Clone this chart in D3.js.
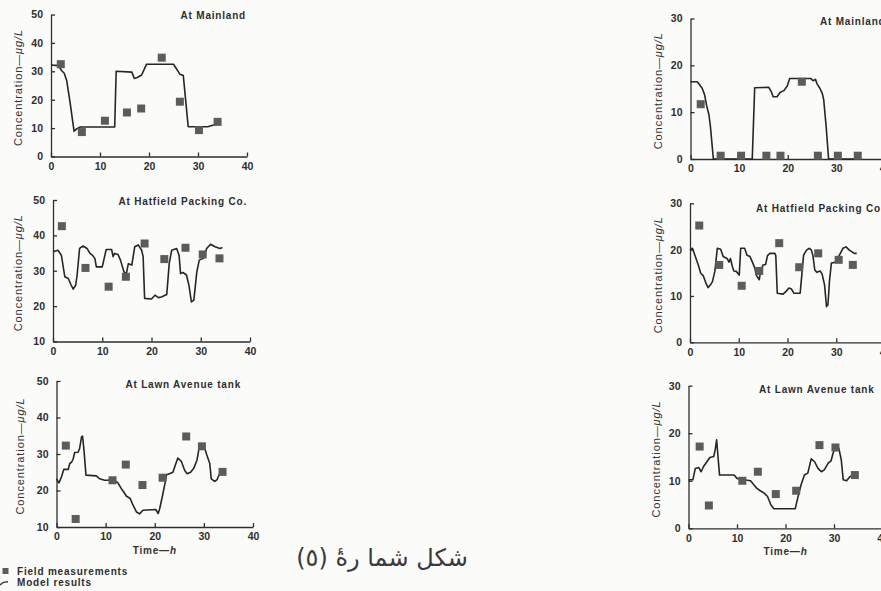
<!DOCTYPE html>
<html>
<head>
<meta charset="utf-8">
<script src="https://cdn.jsdelivr.net/npm/d3@7"></script>
<style>
  body { margin: 0; background: #fbfbf9; }
  svg { display: block; }
  .tick text { font-family: "Liberation Sans", Arial, sans-serif; font-weight: bold; font-size: 10.5px; fill: #2e2e2e; }
  .tick line, .domain { stroke: #2e2e2e; stroke-width: 1.3px; }
</style>
</head>
<body>
<div id="chart"></div>
<script>
// ---- data ----
var xTicks = [0, 10, 20, 30, 40];
var yTicksLeftTop = [0, 10, 20, 30, 40, 50];
var yTicksLeft = [10, 20, 30, 40, 50];
var yTicksRight = [0, 10, 20, 30];
var titles = ["At Mainland", "At Hatfield Packing Co.", "At Lawn Avenue tank"];

// left column
var leftMainlandModel = [[0,32.2],[1.5,32],[2.2,30.2],[2.7,29.3],[3.2,26.8],[3.9,19],[4.7,8.9],[5.3,9.8],[6,10.4],[13,10.4],[13.3,30],[16.5,29.7],[17,27.5],[17.6,27.8],[18.5,28.7],[19.5,32.5],[25,32.5],[26.3,29],[27,28.5],[28,10.5],[32,10.5],[34,11.5]];
var leftMainlandField = [[2,32.5],[6.3,8.6],[11,12.6],[15.5,15.5],[18.4,16.9],[22.6,34.8],[26.3,19.3],[30.2,9.3],[34,12.2]];

var leftHatfieldModel = [[0,35.4],[1,35.8],[1.7,34.4],[2.4,28.3],[3.1,27.8],[3.7,25.9],[4.1,24.8],[4.6,25.9],[4.9,28.8],[5.4,36.3],[6.1,37],[6.9,36.3],[7.5,34.9],[8,34.4],[8.5,33.5],[8.8,31.1],[10,31.1],[10.8,36],[11.9,36],[12.2,34],[12.5,34.9],[13.2,34.6],[13.7,33],[14.4,29.7],[14.9,29.2],[15.3,32],[16,31.6],[16.6,36.8],[17.3,37.3],[18,35.8],[18.3,34],[18.6,22.2],[20,22],[20.7,23.1],[21.4,22.4],[22,22.6],[23.1,23.3],[23.6,32.1],[24.1,35.8],[25.1,36.3],[25.6,34.4],[25.9,29.2],[26.4,29.5],[27.1,28.8],[27.6,25.9],[28.1,21.2],[28.6,21.7],[29.2,29.7],[29.7,33],[30.5,33.5],[31.2,36.3],[32,37.5],[32.9,36.8],[33.9,36.3],[34.4,36.6]];
var leftHatfieldField = [[1.8,42.6],[6.6,30.8],[11.3,25.5],[14.8,28.3],[18.6,37.7],[22.6,33.3],[26.9,36.5],[30.4,34.6],[33.8,33.5]];

var leftLawnModel = [[0,23.2],[0.5,22.1],[1,23.7],[1.5,25.8],[2.4,25.8],[2.7,27.4],[3.1,27.8],[3.4,28.7],[3.7,30.4],[4.4,30.5],[4.7,31.5],[5.1,34.7],[5.3,34.9],[5.6,31],[6,24.2],[8.1,24],[8.8,23.2],[9.8,22.8],[10.5,22.8],[11.5,23.2],[12.5,22.1],[13.2,20.5],[13.7,19.6],[14.2,18.5],[15,17.8],[15.6,15.9],[16.3,14.1],[16.9,13.6],[17.6,14.6],[20.2,14.8],[20.7,13.7],[21,15],[21.6,18.7],[22,21.4],[22.4,24.3],[23,24.6],[23.7,25],[24.3,27.4],[24.7,28.9],[25.4,28],[26.1,25.5],[26.6,24.6],[27.3,25],[27.9,26],[28.6,28.3],[29,31.5],[29.7,32.4],[30.2,31.5],[30.6,29.7],[31.2,27.4],[31.5,23.2],[32.2,22.5],[32.7,23],[33.2,24.6],[34,24.9]];
var leftLawnField = [[1.9,32.3],[3.9,12.2],[11.4,22.8],[14.1,27.1],[17.5,21.5],[21.6,23.5],[26.4,34.8],[29.6,32.1],[33.8,25.1]];

// right column
var rightMainlandModel = [[0,16.5],[1.4,16.5],[2.4,15.1],[2.9,13.7],[3.3,11.5],[3.8,9.4],[4.1,6.9],[4.7,0],[12.7,0],[13.2,15.2],[16.1,15.3],[16.6,14.4],[17,13.3],[17.8,13.3],[18.4,14.2],[19.2,14.6],[19.9,15.6],[20.4,17.2],[24.7,17.2],[25.2,16.7],[25.7,17],[26,16.1],[26.6,15.1],[27.1,14],[27.4,12.6],[27.9,6.9],[28.4,0],[34,0]];
var rightMainlandField = [[2.1,11.7],[6.2,0.7],[10.4,0.7],[15.6,0.7],[18.5,0.7],[22.9,16.5],[26.2,0.7],[30.3,0.7],[34.4,0.7]];

var rightHatfieldModel = [[0,19.9],[0.5,20.3],[1,18.8],[1.7,16.7],[2.2,14.9],[2.7,14.4],[3.3,12.7],[3.7,11.8],[4.2,12.4],[4.6,13.1],[5.1,15.3],[5.6,20.3],[6.3,20.1],[6.8,18.5],[7.6,18.1],[8,17.3],[8.3,18.1],[8.7,16.3],[9,15.4],[9.5,15.3],[10.1,14.5],[10.4,20.3],[11.2,20.3],[11.7,18.8],[12.3,18.5],[12.8,17.3],[13.3,16],[13.6,14.5],[14.2,13.5],[14.5,15.4],[15,16.7],[15.5,16.8],[15.9,18.7],[16.4,19.2],[17.4,19.2],[17.6,18.7],[17.9,10.6],[19.1,10.4],[19.8,11.1],[20.3,11.7],[20.8,11.5],[21.3,10.6],[22.6,10.6],[23.3,18.8],[23.9,19.9],[24.5,20.3],[24.9,19.9],[25.2,18.8],[25.6,15.6],[26,15.1],[26.7,15.4],[27.1,14.7],[27.6,12.4],[28,7.7],[28.3,8.1],[28.6,13.1],[29,17.1],[30,17.3],[30.5,18.5],[31.4,20.3],[32,20.6],[32.7,19.9],[33.7,19.2],[34.2,19.2]];
var rightHatfieldField = [[1.9,25.2],[6,16.7],[10.6,12.2],[14.2,15.4],[18.3,21.4],[22.4,16.2],[26.3,19.2],[30.5,17.8],[33.4,16.7]];

var rightLawnModel = [[0,10.2],[0.9,10.2],[1.4,12.6],[2.1,12.8],[2.6,11.9],[3.1,13],[3.8,14],[4.4,14.9],[5.2,15.1],[5.5,16.5],[5.8,18.6],[6,16.1],[6.4,11.2],[9.4,11.2],[10,10.5],[11.4,10.2],[12.8,10],[13.5,9.1],[14.1,8.4],[14.8,7.9],[15.6,7.4],[16.3,6.7],[17,4.9],[17.6,4.1],[22,4.1],[22.5,6.3],[23.2,9.1],[23.9,11.2],[24.6,11.6],[25.3,14.6],[26,14],[26.7,12.6],[27.4,11.9],[28,12.3],[28.8,13.7],[29.4,14.2],[29.8,15.8],[30.5,17.5],[31,16.8],[31.5,14.4],[31.9,10.2],[32.6,10],[33.3,10.9],[34,11.1],[34.6,11.1]];
var rightLawnField = [[2.3,17.2],[4.2,4.8],[11.1,10],[14.3,11.9],[18,7.2],[22.2,7.9],[27,17.5],[30.3,17],[34.3,11.2]];

// ---- layout (pixel frames of each panel) ----
var panels = [
  {model: leftMainlandModel, field: leftMainlandField, yDomain: [0, 50], yTicks: yTicksLeftTop, title: titles[0],
   xr: [51, 247], yr: [156.5, 14.5], tx: 246, ty: 18.5, anchor: "end", lx: 22, time: false},
  {model: leftHatfieldModel, field: leftHatfieldField, yDomain: [10, 50], yTicks: yTicksLeft, title: titles[1],
   xr: [53, 250], yr: [341.5, 200], tx: 247, ty: 205, anchor: "end", lx: 22, time: false},
  {model: leftLawnModel, field: leftLawnField, yDomain: [10, 50], yTicks: yTicksLeft, title: titles[2],
   xr: [56.5, 253], yr: [527, 381], tx: 241, ty: 388, anchor: "end", lx: 24, time: true},
  {model: rightMainlandModel, field: rightMainlandField, yDomain: [0, 30], yTicks: yTicksRight, title: titles[0],
   xr: [690.5, 885], yr: [159, 18.5], tx: 820, ty: 25, anchor: "start", lx: 662, time: false},
  {model: rightHatfieldModel, field: rightHatfieldField, yDomain: [0, 30], yTicks: yTicksRight, title: titles[1],
   xr: [690, 885], yr: [342.3, 203.3], tx: 756, ty: 211.5, anchor: "start", lx: 662, time: false},
  {model: rightLawnModel, field: rightLawnField, yDomain: [0, 30], yTicks: yTicksRight, title: titles[2],
   xr: [688.5, 882.5], yr: [528.3, 385.7], tx: 759, ty: 392.5, anchor: "start", lx: 660, time: true}
];

var svg = d3.select("#chart").append("svg")
    .attr("width", 881)
    .attr("height", 591)
    .style("font-family", "'Liberation Sans', Arial, sans-serif")

panels.forEach(function (p) {
    var x = d3.scaleLinear().domain([0, 40]).range(p.xr);
    var y = d3.scaleLinear().domain(p.yDomain).range(p.yr);
    var g = svg.append("g");

    // axes, ticks pointing inward
    g.append("g")
        .attr("transform", "translate(0," + p.yr[0] + ")")
        .call(d3.axisBottom(x).tickValues(xTicks).tickSizeInner(-4).tickSizeOuter(0).tickPadding(6))
    g.append("g")
        .attr("transform", "translate(" + p.xr[0] + ",0)")
        .call(d3.axisLeft(y).tickValues(p.yTicks).tickSizeInner(-4).tickSizeOuter(0).tickPadding(8))

    // model line
    var line = d3.line()
        .x(function (d) { return x(d[0]); })
        .y(function (d) { return y(d[1]); })
    g.append("path")
        .datum(p.model)
        .attr("d", line)
        .attr("fill", "none")
        .attr("stroke", "#262626")
        .attr("stroke-width", 1.6)
        .attr("stroke-linejoin", "round")

    // field measurements
    g.selectAll("rect.pt")
        .data(p.field)
        .enter().append("rect")
        .attr("class", "pt")
        .attr("x", function (d) { return x(d[0]) - 4; })
        .attr("y", function (d) { return y(d[1]) - 4; })
        .attr("width", 8)
        .attr("height", 8)
        .attr("fill", "#5b5d5b")

    g.append("text")
        .attr("x", p.tx)
        .attr("y", p.ty)
        .attr("text-anchor", p.anchor)
        .style("font-size", "10px")
        .style("font-weight", "bold")
        .style("letter-spacing", "0.8px")
        .attr("fill", "#2e2e2e")
        .text(p.title)

    var ylab = g.append("text")
        .attr("transform", "translate(" + p.lx + "," + ((p.yr[0] + p.yr[1]) / 2 + 2) + ") rotate(-90)")
        .attr("text-anchor", "middle")
        .style("font-size", "11px")
        .style("letter-spacing", "0.9px")
        .attr("fill", "#333")
    ylab.append("tspan").text("Concentration\u2014");
    ylab.append("tspan").style("font-style", "italic").text("\u03bcg/L");

    if (p.time) {
        var tl = g.append("text")
            .attr("x", (p.xr[0] + p.xr[1]) / 2)
            .attr("y", p.yr[0] + 27)
            .attr("text-anchor", "middle")
            .style("font-size", "10px")
            .style("font-weight", "bold")
            .style("letter-spacing", "0.8px")
            .attr("fill", "#333")
        tl.append("tspan").text("Time\u2014");
        tl.append("tspan").style("font-style", "italic").text("h");
    }
});

// legend
var leg = svg.append("g")
leg.append("rect")
    .attr("x", 2.5).attr("y", 568)
    .attr("width", 6).attr("height", 6)
    .attr("fill", "#5b5d5b")
leg.append("text")
    .attr("x", 17).attr("y", 574.5)
    .style("font-size", "10px").style("font-weight", "bold")
    .style("letter-spacing", "0.8px")
    .attr("fill", "#2e2e2e")
    .text("Field measurements")
leg.append("path")
    .attr("d", "M0,585 Q3,581 8,582")
    .attr("fill", "none").attr("stroke", "#2e2e2e").attr("stroke-width", 1.3)
leg.append("text")
    .attr("x", 17).attr("y", 586)
    .style("font-size", "10px").style("font-weight", "bold")
    .style("letter-spacing", "0.8px")
    .attr("fill", "#2e2e2e")
    .text("Model results")

// caption
svg.append("text")
    .attr("x", 382).attr("y", 566)
    .attr("text-anchor", "middle")
    .attr("direction", "rtl")
    .style("font-family", "'DejaVu Sans', sans-serif")
    .style("font-size", "24px")
    .attr("fill", "#3a3a3a")
    .text("شكل شما رةٔ (٥)")
</script>
</body>
</html>
